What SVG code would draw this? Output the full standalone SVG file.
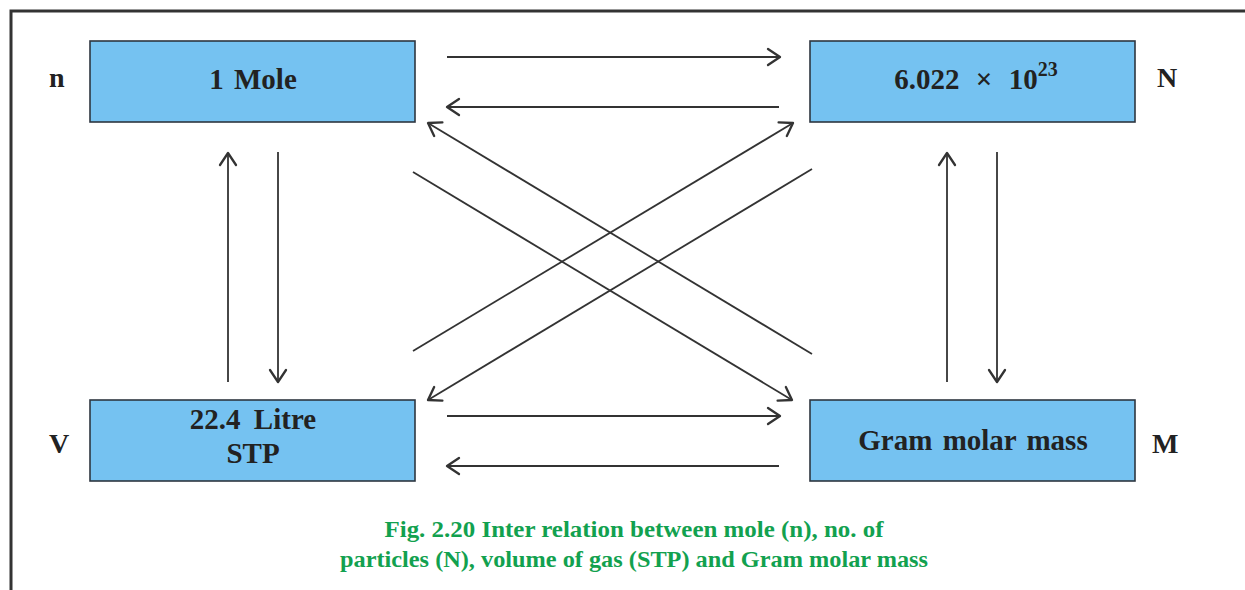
<svg xmlns="http://www.w3.org/2000/svg" width="1245" height="590" viewBox="0 0 1245 590">
<style>
.box{fill:#75c2f1;stroke:#2e3640;stroke-width:1.6}
.t{font-family:"Liberation Serif","Times New Roman",serif;font-weight:bold;fill:#222;font-size:29px;text-anchor:middle;word-spacing:3px}
.lbl{font-family:"Liberation Serif","Times New Roman",serif;font-weight:bold;fill:#222;font-size:28px}
.cap{font-family:"Liberation Serif","Times New Roman",serif;font-weight:bold;fill:#12a14f;font-size:24px;text-anchor:middle}
.c line{stroke:#333;stroke-width:1.8;fill:none;marker-end:url(#ah)}
</style>
<defs>
<marker id="ah" viewBox="-14 -10 16 20" markerWidth="16" markerHeight="20" refX="0" refY="0" orient="auto" markerUnits="userSpaceOnUse">
<path d="M-12,-8 L0,0 L-12,8" fill="none" stroke="#333" stroke-width="2.3" stroke-linecap="round" stroke-linejoin="round"/>
</marker>
</defs>
<rect width="1245" height="590" fill="#fff"/>
<path d="M11,590 L11,11 L1245,11" fill="none" stroke="#333" stroke-width="3"/>

<g id="node-mole">
<rect class="box" x="90" y="41" width="325" height="81"/>
<text class="t" x="253" y="89">1  Mole</text>
</g>
<g id="node-particles">
<rect class="box" x="810" y="41" width="325" height="81"/>
<text class="t" x="976" y="89" style="word-spacing:9px">6.022 × 10<tspan font-size="20" dy="-13">23</tspan></text>
</g>
<g id="node-volume">
<rect class="box" x="90" y="400" width="325" height="81"/>
<text class="t" x="253" y="429" style="word-spacing:6px">22.4 Litre</text>
<text class="t" x="253" y="463">STP</text>
</g>
<g id="node-mass">
<rect class="box" x="810" y="400" width="325" height="81"/>
<text class="t" x="973" y="450">Gram  molar  mass</text>
</g>

<g id="labels">
<text class="lbl" x="49" y="87">n</text>
<text class="lbl" x="1157" y="87">N</text>
<text class="lbl" x="49" y="453">V</text>
<text class="lbl" x="1152" y="453">M</text>
</g>

<g id="connectors" class="c">
<line x1="447" y1="57" x2="780" y2="57"/>
<line x1="779" y1="107" x2="447" y2="107"/>
<line x1="447" y1="416" x2="780" y2="416"/>
<line x1="779" y1="466" x2="447" y2="466"/>
<line x1="228" y1="382" x2="228" y2="153"/>
<line x1="278" y1="152" x2="278" y2="382"/>
<line x1="947" y1="382" x2="947" y2="153"/>
<line x1="997" y1="152" x2="997" y2="382"/>
<line x1="812" y1="354" x2="428" y2="123"/>
<line x1="413" y1="172" x2="792" y2="400"/>
<line x1="413" y1="351" x2="793" y2="123"/>
<line x1="812" y1="169" x2="428" y2="400"/>
</g>

<g id="caption">
<text class="cap" x="634" y="537" textLength="499" lengthAdjust="spacingAndGlyphs">Fig. 2.20  Inter relation between mole (n), no. of</text>
<text class="cap" x="634" y="567" textLength="588" lengthAdjust="spacingAndGlyphs">particles (N), volume of gas (STP) and Gram molar mass</text>
</g>
</svg>
